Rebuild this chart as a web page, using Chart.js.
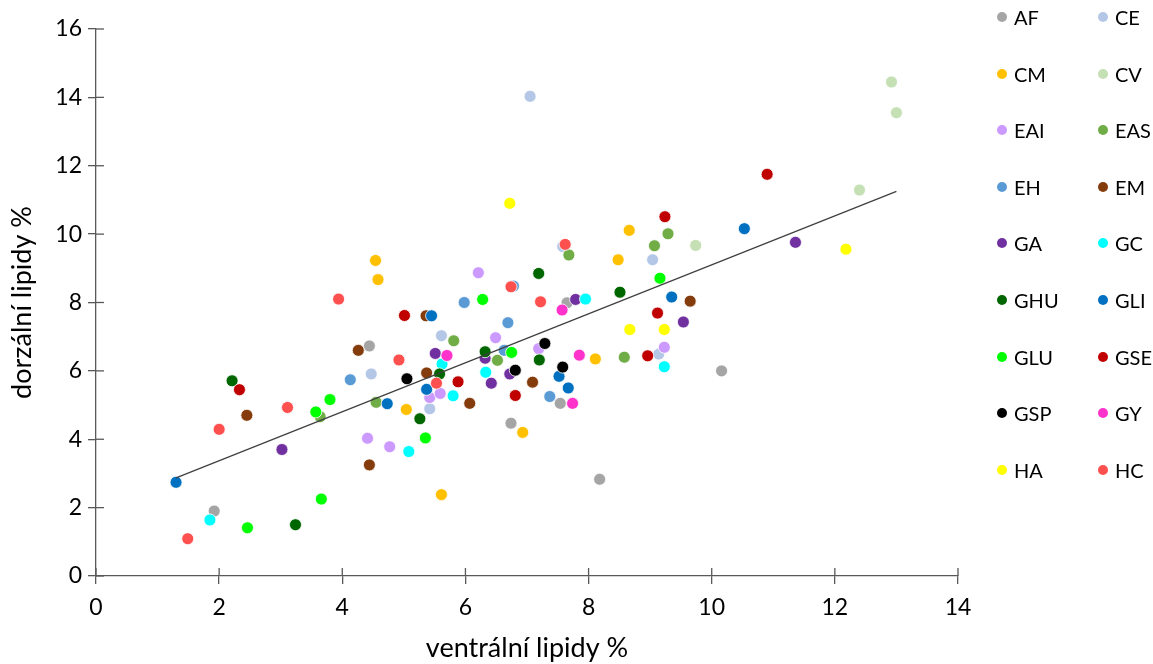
<!DOCTYPE html>
<html>
<head>
<meta charset="utf-8">
<script src="https://cdn.jsdelivr.net/npm/chart.js@4/dist/chart.umd.min.js"></script>
<style>
  html, body { margin: 0; padding: 0; background: #fff; }
  #wrap { position: relative; width: 1153px; height: 664px; }
  canvas { position: absolute; left: 0; top: 0; }
  #legend { position: absolute; left: 0; top: 0; width: 1153px; height: 664px; pointer-events: none;
            font-family: Lato, "Open Sans", sans-serif; font-size: 20px; color: #000; }
  .item { position: absolute; display: flex; align-items: center; height: 24px; }
  .dot { width: 10px; height: 10px; border-radius: 50%; margin-right: 7px; }
</style>
</head>
<body>
<div id="wrap">
  <canvas id="c" width="1153" height="664"></canvas>
  <div id="legend"></div>
</div>
<script>
// ---- data (ventral %, dorsal %) ----
const seriesNames = ["AF","CE","CM","CV","EAI","EAS","EH","EM","GA","GC","GHU","GLI","GLU","GSE","GSP","GY","HA","HC"];
const seriesColors = ["#a5a5a5","#b4c7e7","#ffc000","#c5e0b4","#cc99ff","#70ad47","#5b9bd5","#843c0c","#7030a0","#00ffff","#006600","#0070c0","#00ff00","#c00000","#000000","#ff33cc","#ffff00","#ff5050"];

const AF  = [[1.92,1.90],[4.44,6.73],[6.74,4.47],[7.54,5.05],[7.65,7.99],[8.18,2.83],[10.16,6.00]];
const CE  = [[7.05,14.03],[7.58,9.64],[9.04,9.25],[4.47,5.91],[5.61,7.03],[5.42,4.89],[9.14,6.49]];
const CM  = [[4.54,9.23],[4.58,8.67],[8.66,10.11],[8.48,9.25],[5.04,4.87],[8.11,6.35],[6.93,4.20],[5.61,2.38]];
const CV  = [[12.92,14.45],[13.00,13.55],[12.40,11.29],[9.74,9.67]];
const EAI = [[6.21,8.87],[4.41,4.03],[4.77,3.78],[5.42,5.22],[5.59,5.34],[6.49,6.97],[7.19,6.65],[9.23,6.69]];
const EAS = [[7.68,9.39],[9.07,9.66],[9.29,10.01],[4.55,5.08],[3.64,4.66],[5.81,6.88],[6.52,6.31],[8.58,6.40]];
const EH  = [[5.98,8.00],[6.78,8.48],[6.69,7.41],[4.13,5.74],[6.63,6.60],[7.37,5.25]];
const EM  = [[5.36,7.61],[4.26,6.60],[2.45,4.70],[4.44,3.25],[5.37,5.94],[6.07,5.05],[7.09,5.67],[9.65,8.04]];
const GA  = [[3.02,3.70],[5.51,6.51],[6.32,6.37],[6.42,5.64],[6.72,5.91],[7.79,8.09],[9.54,7.43],[11.36,9.76]];
const GC  = [[1.85,1.64],[5.08,3.64],[5.62,6.20],[5.80,5.27],[6.33,5.96],[7.95,8.10],[9.23,6.12]];
const GHU = [[2.21,5.71],[3.24,1.50],[5.26,4.60],[5.58,5.91],[6.32,6.56],[7.19,8.85],[8.51,8.30],[7.20,6.32]];
const GLI = [[1.30,2.74],[5.45,7.61],[4.73,5.04],[5.37,5.46],[7.52,5.84],[7.67,5.50],[9.35,8.16],[10.53,10.16]];
const GLU = [[2.46,1.41],[3.66,2.25],[3.57,4.80],[3.80,5.16],[6.28,8.09],[5.35,4.04],[6.75,6.54],[9.16,8.71]];
const GSE = [[2.33,5.45],[5.01,7.62],[5.88,5.68],[6.81,5.28],[9.12,7.69],[8.96,6.44],[9.24,10.51],[10.90,11.75]];
const GSP = [[5.05,5.77],[7.29,6.80],[6.81,6.02],[7.58,6.11]];
const GY  = [[5.70,6.45],[7.57,7.78],[7.85,6.46],[7.74,5.05]];
const HA  = [[6.72,10.90],[8.67,7.21],[9.23,7.21],[12.18,9.56]];
const HC  = [[1.49,1.09],[2.00,4.29],[3.11,4.93],[3.94,8.10],[4.92,6.32],[5.53,5.64],[6.74,8.46],[7.22,8.02],[7.62,9.70]];

const trendX = [1.30, 13.00];
const trendY = [2.87, 11.25];

const xTicks = [0,2,4,6,8,10,12,14];
const yTicks = [0,2,4,6,8,10,12,14,16];
const xTitle = "ventrální lipidy %";
const yTitle = "dorzální lipidy %";

const seriesData = [AF,CE,CM,CV,EAI,EAS,EH,EM,GA,GC,GHU,GLI,GLU,GSE,GSP,GY,HA,HC];

// ---- chart ----
const AXIS = "#595959";
const FONT = "Lato, 'Open Sans', sans-serif";
const N = seriesNames.length;

const datasets = seriesNames.map((name, i) => ({
  label: name,
  data: seriesData[i].map(p => ({x: p[0], y: p[1]})),
  backgroundColor: seriesColors[i],
  borderColor: "#ffffff",
  borderWidth: 0.8,
  pointRadius: 6,
  pointHoverRadius: 6,
  order: N - i + 1
}));
datasets.push({
  type: "line",
  label: "trend",
  data: trendX.map((x, i) => ({x, y: trendY[i]})),
  borderColor: "#404040",
  borderWidth: 1.3,
  pointRadius: 0,
  fill: false,
  order: 0
});

const crossTicks = {
  id: "crossTicks",
  afterDraw(chart) {
    const {ctx, scales: {x, y}} = chart;
    ctx.save();
    ctx.strokeStyle = AXIS;
    ctx.lineWidth = 1.3;
    x.ticks.forEach(t => {
      const px = x.getPixelForValue(t.value);
      ctx.beginPath(); ctx.moveTo(px, y.bottom); ctx.lineTo(px, y.bottom - 8); ctx.stroke();
    });
    y.ticks.forEach(t => {
      const py = y.getPixelForValue(t.value);
      ctx.beginPath(); ctx.moveTo(x.left, py); ctx.lineTo(x.left + 8, py); ctx.stroke();
    });
    ctx.restore();
  }
};

new Chart(document.getElementById("c"), {
  type: "scatter",
  data: { datasets },
  options: {
    responsive: false,
    animation: false,
    layout: { padding: { left: 0, top: 29, right: 195, bottom: 0 } },
    plugins: { legend: { display: false }, tooltip: { enabled: false } },
    scales: {
      x: {
        type: "linear", min: 0, max: 14,
        afterBuildTicks: s => { s.ticks = xTicks.map(v => ({value: v})); },
        afterFit: s => { s.height = 88; },
        ticks: { color: "#000", font: { family: FONT, size: 23 }, padding: 10 },
        grid: { display: true, drawOnChartArea: false, drawTicks: true, tickLength: 8, color: AXIS, lineWidth: 1.3 },
        border: { display: true, color: AXIS, width: 1.3 },
        title: { display: true, text: xTitle, color: "#000", font: { family: FONT, size: 27 }, padding: { top: 0, bottom: 0 } }
      },
      y: {
        type: "linear", min: 0, max: 16,
        afterBuildTicks: s => { s.ticks = yTicks.map(v => ({value: v})); },
        afterFit: s => { s.width = 96; },
        ticks: { color: "#000", font: { family: FONT, size: 23 }, padding: 6 },
        grid: { display: true, drawOnChartArea: false, drawTicks: true, tickLength: 8, color: AXIS, lineWidth: 1.3 },
        border: { display: true, color: AXIS, width: 1.3 },
        title: { display: true, text: yTitle, color: "#000", font: { family: FONT, size: 27 }, padding: { top: 6, bottom: 0 } }
      }
    }
  },
  plugins: [crossTicks]
});

// ---- legend (two columns, row-wise order) ----
const legend = document.getElementById("legend");
const colX = [997, 1098];
const rowY0 = 17, rowStep = 56.6;
seriesNames.forEach((name, i) => {
  const col = i % 2, row = Math.floor(i / 2);
  const el = document.createElement("div");
  el.className = "item";
  el.style.left = colX[col] + "px";
  el.style.top = (rowY0 + row * rowStep - 12) + "px";
  const d = document.createElement("span");
  d.className = "dot";
  d.style.background = seriesColors[i];
  const t = document.createElement("span");
  t.textContent = name;
  el.appendChild(d); el.appendChild(t);
  legend.appendChild(el);
});
</script>
</body>
</html>
